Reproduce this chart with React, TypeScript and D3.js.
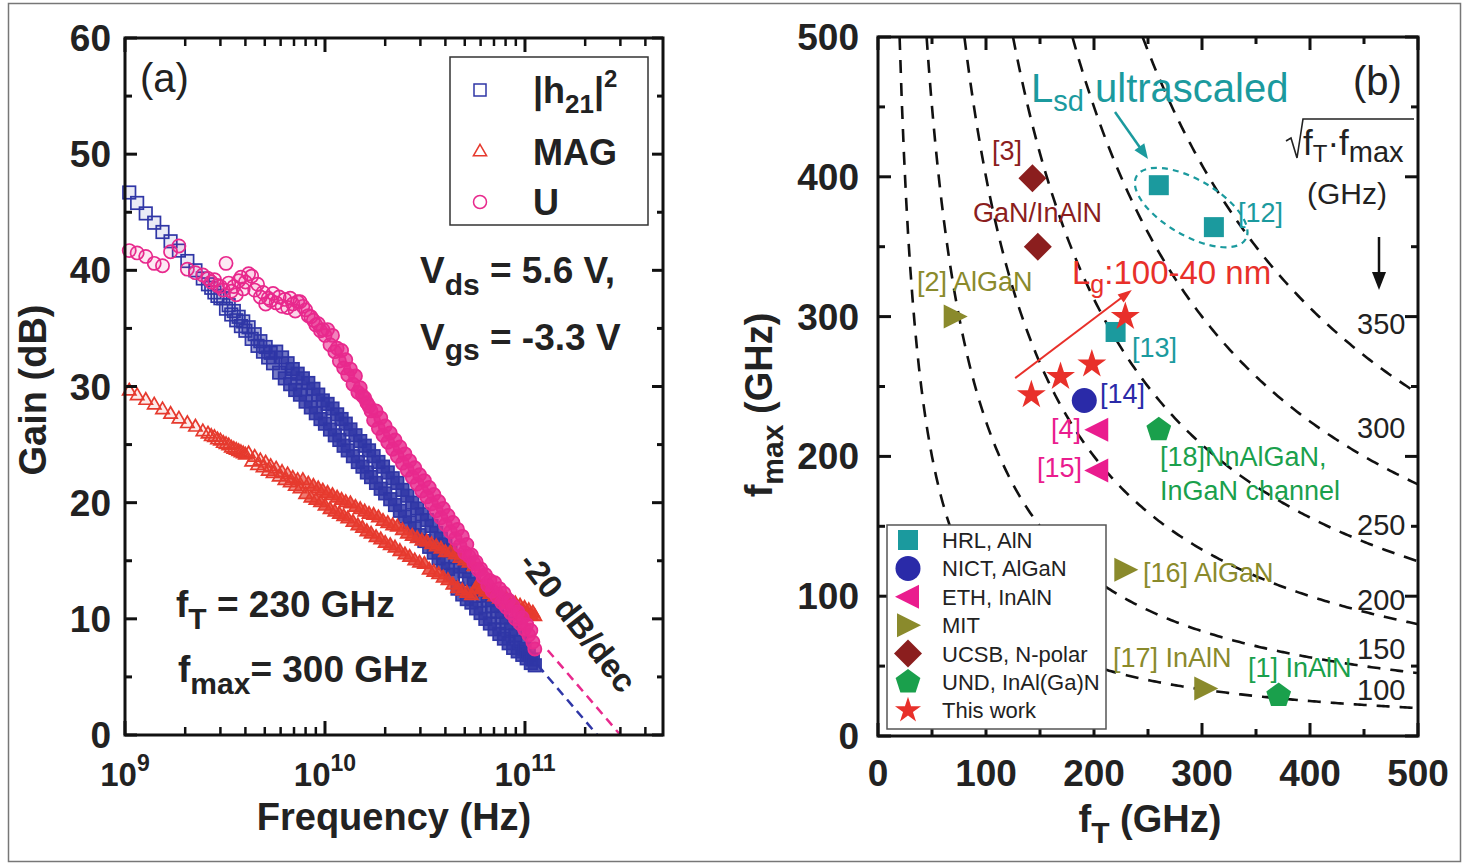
import React from "react";
import * as d3 from "d3";

// ---------- panel (a): gain vs frequency ----------
const freqGHz = [
  1.05, 1.15, 1.27, 1.4, 1.54, 1.69, 1.86, 2.05, 2.25, 2.45, 2.6, 2.7, 2.8, 2.9, 3.0,
  3.1, 3.2, 3.3, 3.4, 3.5, 3.6, 3.7, 3.8, 3.9, 4.0,
  4.15, 4.3, 4.45, 4.6, 4.75, 4.9, 5.05, 5.2, 5.35, 5.5,
  5.7, 5.9, 6.1, 6.3, 6.5, 6.7, 6.9, 7.1, 7.3, 7.5,
  7.75, 8.0, 8.25, 8.5, 8.75, 9.0, 9.25, 9.5, 9.75, 10.0,
  10.3, 10.6, 10.9, 11.2, 11.5, 11.8, 12.1, 12.4, 12.7, 13.0,
  13.4, 13.8, 14.2, 14.6, 15.0, 15.4, 15.8, 16.2, 16.6, 17.0,
  17.5, 18, 18.5, 19, 19.5, 20, 20.6, 21.2, 21.8, 22.4,
  23, 23.7, 24.4, 25.1, 25.8, 26.5, 27.3, 28.1, 28.9, 29.7,
  30.5, 31.4, 32.3, 33.2, 34.1, 35, 36, 37, 38, 39,
  40, 41.2, 42.4, 43.6, 44.8, 46, 47.3, 48.6, 49.9, 51.2,
  52.5, 54, 55.5, 57, 58.5, 60, 61.7, 63.4, 65.1, 66.8,
  68.5, 70.5, 72.5, 74.5, 76.5, 78.5, 80.7, 82.9, 85.1, 87.3,
  89.5, 92, 94.5, 97, 99.5, 102, 104.5, 107, 109.5, 112,
];

const h21Gain = [
  46.7, 45.8, 44.9, 44.1, 43.3, 42.5, 41.7, 40.8, 40.0, 39.3, 38.8, 38.5, 38.1, 37.8, 37.6,
  37.6, 36.7, 37.0, 36.2, 36.5, 35.7, 36.0, 35.2, 35.6, 34.8,
  35.1, 34.1, 34.5, 33.5, 33.9, 33.0, 33.4, 32.5, 32.9, 32.0,
  33.0, 31.2, 32.5, 30.7, 32.0, 30.2, 31.5, 29.7, 31.1, 29.3,
  30.7, 28.7, 30.3, 28.2, 29.8, 27.7, 29.3, 27.2, 28.8, 26.8,
  28.5, 26.3, 28.1, 25.8, 27.6, 25.4, 27.2, 24.9, 26.8, 24.5,
  26.3, 24.0, 25.8, 23.5, 25.3, 23.1, 24.9, 22.6, 24.5, 22.2,
  24.0, 21.7, 23.5, 21.2, 23.1, 20.8, 22.6, 20.3, 22.1, 19.8,
  21.7, 19.3, 21.1, 18.8, 20.6, 18.3, 20.0, 17.8, 19.5, 17.2,
  19.0, 16.7, 18.5, 16.2, 18.0, 15.7, 17.4, 15.2, 16.9, 14.8,
  16.4, 14.3, 15.9, 13.8, 15.3, 12.6, 14.5, 12.1, 14.1, 11.7,
  13.4, 11.4, 13.0, 10.9, 12.5, 10.5, 12.0, 10.0, 11.6, 9.6,
  11.1, 9.1, 10.6, 8.7, 10.1, 8.3, 9.6, 7.9, 9.1, 7.5,
  8.6, 7.2, 8.0, 6.9, 7.4, 6.6, 6.9, 6.2, 6.5, 6.0,
];

const magGain = [
  29.6, 29.2, 28.8, 28.4, 28.0, 27.6, 27.2, 26.8, 26.5, 26.1, 25.9, 25.7, 25.6, 25.4, 25.3,
  25.1, 25.0, 24.9, 24.7, 24.6, 24.5, 24.4, 24.3, 24.2, 24.1,
  24.2, 23.5, 23.9, 23.2, 23.6, 23.0, 23.4, 22.7, 23.1, 22.5,
  22.9, 22.2, 22.6, 21.9, 22.4, 21.7, 22.1, 21.4, 21.9, 21.2,
  21.9, 20.7, 21.6, 20.4, 21.4, 20.2, 21.2, 20.0, 21.0, 19.7,
  20.8, 19.4, 20.6, 19.2, 20.4, 19.0, 20.2, 18.8, 20.0, 18.6,
  19.9, 18.3, 19.6, 18.0, 19.4, 17.8, 19.2, 17.5, 19.0, 17.3,
  18.9, 17.0, 18.7, 16.8, 18.4, 16.5, 18.2, 16.3, 18.0, 16.1,
  17.9, 15.8, 17.6, 15.5, 17.3, 15.3, 17.1, 15.0, 16.9, 14.8,
  16.7, 14.7, 16.6, 14.2, 16.4, 14.0, 16.2, 13.8, 16.0, 13.5,
  15.7, 13.3, 15.7, 12.9, 15.5, 12.6, 15.2, 12.4, 15.0, 12.2,
  14.8, 12.0, 14.5, 12.6, 13.0, 12.5, 12.8, 12.3, 12.6, 12.1,
  12.3, 11.9, 12.1, 11.7, 11.9, 11.5, 11.7, 11.3, 11.5, 11.1,
  11.3, 10.9, 11.1, 10.7, 10.9, 10.5, 10.7, 10.3, 10.5, 10.2,
];

const uGain = [
  41.7, 41.5, 41.2, 40.6, 40.4, 41.6, 42.1, 40.1, 39.8, 39.6, 39.3, 39.0, 39.2, 38.7, 38.6,
  38.3, 40.6, 38.9, 38.2, 38.6, 37.9, 39.1, 39.4, 38.4, 39.0,
  39.7, 39.5, 38.3, 38.8, 37.7, 38.1, 37.1, 37.6, 37.4, 38.0,
  37.2, 37.7, 36.9, 37.5, 36.8, 37.6, 37.1, 36.5, 37.3, 37.3,
  36.9, 36.6, 36.1, 36.0, 35.7, 35.3, 35.4, 34.8, 34.9, 34.4,
  34.9, 33.6, 34.4, 33.0, 33.3, 32.2, 33.1, 31.6, 32.3, 31.0,
  31.5, 30.2, 30.9, 29.5, 29.9, 29.2, 29.0, 28.6, 28.3, 27.9,
  27.1, 27.9, 26.4, 27.3, 25.8, 26.6, 25.2, 26.0, 24.6, 25.4,
  24.0, 24.8, 23.4, 24.2, 22.8, 23.6, 22.2, 23.0, 21.6, 22.4,
  21.0, 21.9, 20.5, 21.3, 19.9, 20.7, 19.3, 20.1, 18.7, 19.5,
  18.1, 18.9, 17.5, 18.3, 16.9, 17.7, 16.3, 17.1, 15.7, 16.4,
  15.4, 15.5, 14.8, 14.9, 14.2, 14.3, 13.6, 13.8, 12.9, 13.3,
  12.4, 13.1, 11.9, 12.6, 11.4, 12.2, 11.0, 11.6, 10.5, 11.1,
  10.0, 10.6, 9.6, 10.1, 9.1, 9.5, 8.6, 9.0, 8.0, 7.4,
];

// -20 dB/dec extrapolations (Hz, dB)
const h21Extrap = [[1.16e11, 6.0], [2.3e11, 0]];
const uExtrap = [[1.3e11, 7.3], [3.0e11, 0]];

const gainTicks = [0, 10, 20, 30, 40, 50, 60];
const gainMinor = [5, 15, 25, 35, 45, 55];
const freqDecades = [1e9, 1e10, 1e11];
const decadeExp = ["9", "10", "11"];

// ---------- panel (b): fmax vs fT benchmark ----------
const hrlPts = [[260, 394], [311, 364], [220, 289]];
const nictPts = [[191, 240]];
const ethPts = [[203, 219], [203, 190]];
const mitPts = [[71, 300], [229, 119], [303, 34]];
const ucsbPts = [[143, 399], [148, 350]];
const undPts = [[260, 219], [371, 29]];
const thisWorkPts = [[142, 244], [169, 257], [198, 266], [229, 300]];

const contourLevels = [100, 150, 200, 250, 300, 350];
const contourLabelFmax = [33, 62, 97, 151, 220, 295];
const fTicks = [0, 100, 200, 300, 400, 500];
const fMinor = [50, 150, 250, 350, 450];

const FONT = "'Liberation Sans', Arial, Helvetica, sans-serif";
const BLUE = "#2f36a6";
const RED = "#e63a2e";
const PINK = "#e8298d";
const TEAL = "#1b9a9e";
const NAVY = "#2a2aa8";
const MAGENTA = "#ea1c8e";
const OLIVE = "#8a8a2c";
const MAROON = "#8b1e1e";
const GREEN = "#1aa04c";
const STAR = "#e8302a";

const xA = d3.scaleLog().domain([1e9, 4.9e11]).range([125, 663]);
const yA = d3.scaleLinear().domain([0, 60]).range([735, 38]);
const xB = d3.scaleLinear().domain([0, 500]).range([878, 1418]);
const yB = d3.scaleLinear().domain([0, 500]).range([736, 37]);

const triOpen = d3.symbol(d3.symbolTriangle, 76)() as string;
const starPath = d3.symbol(d3.symbolStar, 260)() as string;
const starSmall = d3.symbol(d3.symbolStar, 210)() as string;

const poly = (pts: number[][]) => "M" + pts.map((p) => p.join(",")).join("L") + "Z";

// the sweep gets so dense that the open markers merge into a band: fade the fill in
const denseFrom = { h21: 4.5, mag: 6, u: 9 };
const bandFill = (f: number, from: number) => {
  const t = Math.max(0, Math.min(1, (Math.log10(f / from) + 0.15) / 0.35));
  return 0.1 + 0.72 * t;
};

function arrowHead(x1: number, y1: number, x2: number, y2: number, len: number, w: number) {
  const a = Math.atan2(y2 - y1, x2 - x1);
  const bx = x2 - len * Math.cos(a);
  const by = y2 - len * Math.sin(a);
  return poly([
    [x2, y2],
    [bx + w * Math.sin(a), by - w * Math.cos(a)],
    [bx - w * Math.sin(a), by + w * Math.cos(a)],
  ]);
}

function marker(kind: string, cx: number, cy: number, color: string, key: string | number) {
  if (kind === "square") return <rect key={key} x={cx - 10} y={cy - 10} width={20} height={20} fill={color} />;
  if (kind === "circle") return <circle key={key} cx={cx} cy={cy} r={12.5} fill={color} />;
  if (kind === "left")
    return <path key={key} d={poly([[cx - 13, cy], [cx + 11, cy - 12], [cx + 11, cy + 12]])} fill={color} />;
  if (kind === "right")
    return <path key={key} d={poly([[cx + 13, cy], [cx - 11, cy - 12], [cx - 11, cy + 12]])} fill={color} />;
  if (kind === "diamond")
    return <path key={key} d={poly([[cx, cy - 14], [cx + 14, cy], [cx, cy + 14], [cx - 14, cy]])} fill={color} />;
  if (kind === "pentagon") {
    const pts = d3.range(5).map((i) => {
      const a = -Math.PI / 2 + (i * 2 * Math.PI) / 5;
      return [cx + 13 * Math.cos(a), cy + 13 * Math.sin(a)];
    });
    return <path key={key} d={poly(pts)} fill={color} />;
  }
  return <path key={key} d={starPath} transform={`translate(${cx},${cy})`} fill={color} />;
}

const groups = [
  { name: "HRL, AlN", kind: "square", color: TEAL, pts: hrlPts },
  { name: "NICT, AlGaN", kind: "circle", color: NAVY, pts: nictPts },
  { name: "ETH, InAlN", kind: "left", color: MAGENTA, pts: ethPts },
  { name: "MIT", kind: "right", color: OLIVE, pts: mitPts },
  { name: "UCSB, N-polar", kind: "diamond", color: MAROON, pts: ucsbPts },
  { name: "UND, InAl(Ga)N", kind: "pentagon", color: GREEN, pts: undPts },
  { name: "This work", kind: "star", color: STAR, pts: thisWorkPts },
];

const refLabels = [
  { t: "[3]", x: 992, y: 160, c: MAROON, a: "start" },
  { t: "GaN/InAlN", x: 973, y: 222, c: MAROON, a: "start" },
  { t: "[2] AlGaN", x: 917, y: 291, c: OLIVE, a: "start" },
  { t: "[12]", x: 1238, y: 222, c: TEAL, a: "start" },
  { t: "[13]", x: 1132, y: 357, c: TEAL, a: "start" },
  { t: "[14]", x: 1100, y: 403, c: NAVY, a: "start" },
  { t: "[4]", x: 1081, y: 438, c: MAGENTA, a: "end" },
  { t: "[15]", x: 1082, y: 477, c: MAGENTA, a: "end" },
  { t: "[18]NnAlGaN,", x: 1160, y: 466, c: GREEN, a: "start" },
  { t: "InGaN channel", x: 1160, y: 500, c: GREEN, a: "start" },
  { t: "[16] AlGaN", x: 1143, y: 582, c: OLIVE, a: "start" },
  { t: "[17] InAlN", x: 1113, y: 667, c: OLIVE, a: "start" },
  { t: "[1] InAlN", x: 1248, y: 677, c: GREEN, a: "start" },
];

export default function App() {
  const minorLog: number[] = [];
  freqDecades.forEach((d) => {
    for (let k = 2; k <= 9; k++) if (d * k <= 4.9e11) minorLog.push(d * k);
  });
  const extrapLine = d3.line<number[]>().x((d) => xA(d[0])).y((d) => yA(d[1]));
  const contourLine = d3.line<number[]>().x((d) => xB(d[0])).y((d) => yB(d[1]));

  const lgA = { x1: xB(127), y1: yB(256), x2: xB(235), y2: yB(319) };

  return (
    <div style={{ position: "absolute", left: 0, top: 0 }}>
      <svg width={1469} height={866} style={{ display: "block", fontFamily: FONT }}>
        <rect x={0} y={0} width={1469} height={866} fill="#fff" />
        <rect x={8.5} y={3.5} width={1452} height={858} fill="none" stroke="#777" strokeWidth={1.5} />

        {/* ================= panel (a) ================= */}
        <g>
          <g>
            {freqGHz.map((f, i) => (
              <rect key={"b" + i} x={xA(f * 1e9) - 6.25} y={yA(h21Gain[i]) - 6.25} width={12.5} height={12.5}
                fill={BLUE} fillOpacity={bandFill(f, denseFrom.h21)} stroke={BLUE} strokeWidth={1.7} />
            ))}
          </g>
          <g>
            {freqGHz.map((f, i) => (
              <path key={"r" + i} d={triOpen} transform={`translate(${xA(f * 1e9)},${yA(magGain[i])})`}
                fill={RED} fillOpacity={bandFill(f, denseFrom.mag)} stroke={RED} strokeWidth={1.7} />
            ))}
          </g>
          <g>
            {freqGHz.map((f, i) => (
              <circle key={"p" + i} cx={xA(f * 1e9)} cy={yA(uGain[i])} r={6.6}
                fill={PINK} fillOpacity={bandFill(f, denseFrom.u)} stroke={PINK} strokeWidth={1.7} />
            ))}
          </g>
          <path d={extrapLine(h21Extrap) as string} stroke={BLUE} strokeWidth={2.5} strokeDasharray="9,6" fill="none" />
          <path d={extrapLine(uExtrap) as string} stroke={PINK} strokeWidth={2.5} strokeDasharray="9,6" fill="none" />

          <rect x={125} y={38} width={538} height={697} fill="none" stroke="#111" strokeWidth={3} />
          {gainTicks.map((v) => (
            <g key={"gt" + v} stroke="#111" strokeWidth={3}>
              <line x1={125} x2={137} y1={yA(v)} y2={yA(v)} />
              <line x1={663} x2={652} y1={yA(v)} y2={yA(v)} />
            </g>
          ))}
          {gainMinor.map((v) => (
            <g key={"gm" + v} stroke="#111" strokeWidth={3}>
              <line x1={125} x2={132} y1={yA(v)} y2={yA(v)} />
              <line x1={663} x2={657} y1={yA(v)} y2={yA(v)} />
            </g>
          ))}
          {freqDecades.map((d) => (
            <g key={"ft" + d} stroke="#111" strokeWidth={3}>
              <line x1={xA(d)} x2={xA(d)} y1={735} y2={721} />
              <line x1={xA(d)} x2={xA(d)} y1={38} y2={52} />
            </g>
          ))}
          {minorLog.map((d) => (
            <g key={"fm" + d} stroke="#111" strokeWidth={2.5}>
              <line x1={xA(d)} x2={xA(d)} y1={735} y2={727} />
              <line x1={xA(d)} x2={xA(d)} y1={38} y2={46} />
            </g>
          ))}
          {gainTicks.map((v) => (
            <text key={"gl" + v} x={111} y={yA(v) + 13} textAnchor="end" fontSize={37} fontWeight="bold" fill="#222">
              {v}
            </text>
          ))}
          {freqDecades.map((d, i) => (
            <text key={"fl" + d} x={xA(d)} y={786} textAnchor="middle" fontSize={33} fontWeight="bold" fill="#222">
              10<tspan fontSize={23} dy={-15}>{decadeExp[i]}</tspan>
            </text>
          ))}
          <text transform="translate(46,390) rotate(-90)" textAnchor="middle" fontSize={38} fontWeight="bold" fill="#222">
            Gain (dB)
          </text>
          <text x={394} y={830} textAnchor="middle" fontSize={38} fontWeight="bold" fill="#222">
            Frequency (Hz)
          </text>

          <rect x={450} y={57} width={198} height={168} fill="#fff" stroke="#333" strokeWidth={1.5} />
          <rect x={474} y={84} width={12} height={12} fill="none" stroke={BLUE} strokeWidth={1.5} />
          <path d={triOpen} transform="translate(480,152)" fill="none" stroke={RED} strokeWidth={1.5} />
          <circle cx={480} cy={202} r={6.5} fill="none" stroke={PINK} strokeWidth={1.5} />
          <text x={533} y={103} fontSize={36} fontWeight="bold" fill="#222">
            |h<tspan fontSize={26} dy={10}>21</tspan><tspan dy={-10}>|</tspan><tspan fontSize={24} dy={-16}>2</tspan>
          </text>
          <text x={533} y={165} fontSize={36} fontWeight="bold" fill="#222">MAG</text>
          <text x={533} y={215} fontSize={36} fontWeight="bold" fill="#222">U</text>

          <text x={140} y={92} fontSize={40} fill="#222">(a)</text>
          <text x={420} y={283} fontSize={37} fontWeight="bold" fill="#222">
            V<tspan fontSize={30} dy={12}>ds</tspan><tspan dy={-12}> = 5.6 V,</tspan>
          </text>
          <text x={420} y={350} fontSize={37} fontWeight="bold" fill="#222">
            V<tspan fontSize={30} dy={10}>gs</tspan><tspan dy={-10}> = -3.3 V</tspan>
          </text>
          <text x={176} y={617} fontSize={37} fontWeight="bold" fill="#222">
            f<tspan fontSize={30} dy={12}>T</tspan><tspan dy={-12}> = 230 GHz</tspan>
          </text>
          <text x={178} y={682} fontSize={37} fontWeight="bold" fill="#222">
            f<tspan fontSize={30} dy={12}>max</tspan><tspan dy={-12}>= 300 GHz</tspan>
          </text>
          <text transform="translate(578,622) rotate(52)" textAnchor="middle" dy="0.35em" fontSize={33}
            fontWeight="bold" fill="#222">
            -20 dB/dec
          </text>
        </g>

        {/* ================= panel (b) ================= */}
        <defs>
          <clipPath id="clipB">
            <rect x={878} y={37} width={540} height={699} />
          </clipPath>
        </defs>
        <g>
          <g clipPath="url(#clipB)">
            {contourLevels.map((c) => {
              const pts = d3.range((c * c) / 500, 501, 2).map((ft) => [ft, (c * c) / ft]);
              return (
                <path key={"c" + c} d={contourLine(pts) as string} fill="none" stroke="#111"
                  strokeWidth={2.6} strokeDasharray="13,10" />
              );
            })}
          </g>
          {contourLevels.map((c, i) => (
            <text key={"cl" + c} x={xB(466)} y={yB(contourLabelFmax[i]) + 10} textAnchor="middle" fontSize={29} fill="#222">
              {c}
            </text>
          ))}

          <ellipse cx={xB(290)} cy={yB(378)} rx={63} ry={28} transform={`rotate(30,${xB(290)},${yB(378)})`}
            fill="none" stroke={TEAL} strokeWidth={2.2} strokeDasharray="6,5" />
          <line x1={1115} y1={112} x2={1141} y2={149} stroke={TEAL} strokeWidth={2.5} />
          <path d={arrowHead(1115, 112, 1148, 159, 15, 6)} fill={TEAL} />
          <line x1={lgA.x1} y1={lgA.y1} x2={lgA.x2 - 8} y2={lgA.y2 + 6} stroke={STAR} strokeWidth={2} />
          <path d={arrowHead(lgA.x1, lgA.y1, lgA.x2, lgA.y2, 14, 5)} fill={STAR} />
          <line x1={1379} y1={237} x2={1379} y2={276} stroke="#111" strokeWidth={2.5} />
          <path d={arrowHead(1379, 237, 1379, 290, 18, 7)} fill="#111" />

          {groups.map((g) => (
            <g key={g.name}>{g.pts.map((p, i) => marker(g.kind, xB(p[0]), yB(p[1]), g.color, i))}</g>
          ))}

          <rect x={878} y={37} width={540} height={699} fill="none" stroke="#111" strokeWidth={3} />
          {fTicks.map((v) => (
            <g key={"bt" + v} stroke="#111" strokeWidth={3}>
              <line x1={xB(v)} x2={xB(v)} y1={736} y2={723} />
              <line x1={xB(v)} x2={xB(v)} y1={37} y2={50} />
              <line x1={878} x2={891} y1={yB(v)} y2={yB(v)} />
              <line x1={1418} x2={1405} y1={yB(v)} y2={yB(v)} />
            </g>
          ))}
          {fMinor.map((v) => (
            <g key={"bm" + v} stroke="#111" strokeWidth={3}>
              <line x1={xB(v)} x2={xB(v)} y1={736} y2={729} />
              <line x1={xB(v)} x2={xB(v)} y1={37} y2={44} />
              <line x1={878} x2={885} y1={yB(v)} y2={yB(v)} />
              <line x1={1418} x2={1411} y1={yB(v)} y2={yB(v)} />
            </g>
          ))}
          {fTicks.map((v) => (
            <text key={"by" + v} x={859} y={yB(v) + 13} textAnchor="end" fontSize={37} fontWeight="bold" fill="#222">
              {v}
            </text>
          ))}
          {fTicks.map((v) => (
            <text key={"bx" + v} x={xB(v)} y={786} textAnchor="middle" fontSize={37} fontWeight="bold" fill="#222">
              {v}
            </text>
          ))}
          <text transform="translate(772,405) rotate(-90)" textAnchor="middle" fontSize={38} fontWeight="bold" fill="#222">
            f<tspan fontSize={30} dy={11}>max</tspan><tspan dy={-11}> (GHz)</tspan>
          </text>
          <text x={1150} y={832} textAnchor="middle" fontSize={38} fontWeight="bold" fill="#222">
            f<tspan fontSize={30} dy={11}>T</tspan><tspan dy={-11}> (GHz)</tspan>
          </text>

          <rect x={887} y={525} width={219} height={204} fill="#fff" stroke="#555" strokeWidth={1.5} />
          {groups.map((g, i) => {
            const cy = 540 + i * 28.4;
            return (
              <g key={"lg" + g.name}>
                {g.kind === "star"
                  ? <path d={starSmall} transform={`translate(908,${cy})`} fill={g.color} />
                  : marker(g.kind, 908, cy, g.color, "m")}
                <text x={942} y={cy + 8} fontSize={22} fill="#222">{g.name}</text>
              </g>
            );
          })}

          {refLabels.map((l) => (
            <text key={l.t} x={l.x} y={l.y} textAnchor={l.a} fontSize={27} fill={l.c}>{l.t}</text>
          ))}
          <text x={1072} y={284} fontSize={33} fill={STAR}>
            L<tspan fontSize={25} dy={9}>g</tspan><tspan dy={-9}>:100-40 nm</tspan>
          </text>
          <text x={1031} y={102} fontSize={40} fill={TEAL}>
            L<tspan fontSize={29} dy={9}>sd</tspan><tspan dy={-9}> ultrascaled</tspan>
          </text>
          <text x={1353} y={95} fontSize={40} fill="#222">(b)</text>
          <path d="M1286,141 L1291,138 L1297,158 L1303,119 L1414,119" stroke="#222" strokeWidth={1.6} fill="none" />
          <text x={1303} y={155} fontSize={35} fill="#222">
            f<tspan fontSize={24} dy={7}>T</tspan><tspan dy={-7}>·f</tspan><tspan fontSize={29} dy={7}>max</tspan>
          </text>
          <text x={1307} y={204} fontSize={30} fill="#222">(GHz)</text>
        </g>
      </svg>
    </div>
  );
}
